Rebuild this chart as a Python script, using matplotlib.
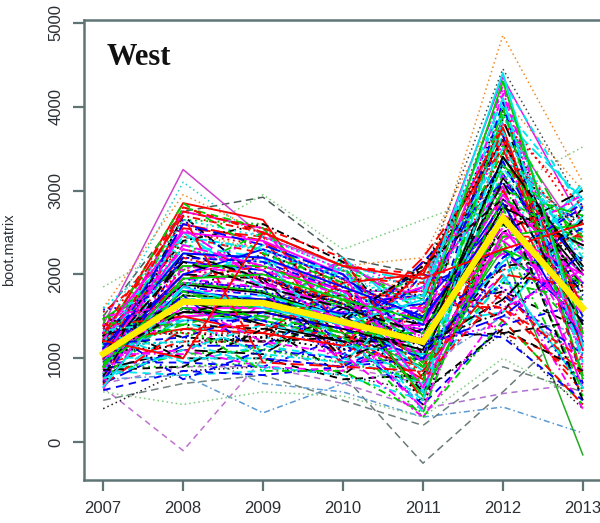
import matplotlib
matplotlib.use("Agg")
import matplotlib.pyplot as plt
import numpy as np

years = [2007, 2008, 2009, 2010, 2011, 2012, 2013]

# Mean of bootstrap lines (yellow)
mean_line = [1054, 1673, 1660, 1435, 1196, 2673, 1600]

# Bootstrap lines: value of each line in each year (same index = same line)
# first 17 entries are the outlying lines, the rest form the dense core
boot_2007 = [650, 900, 800, 700, 1000, 1300, 1850, 1500, 1400, 1300, 1600, 1200, 1100, 750, 600, 500, 400,
             1050, 1200, 900, 1350, 750, 1100, 980, 1450, 820, 1250, 1000, 680, 1150, 1550, 900,
             1300, 850, 1080, 1400, 720, 1180, 950, 1600, 1020, 870, 1230, 780, 1120, 1500, 640,
             1060, 930, 1280, 1340, 800, 1000, 1420, 880, 1160, 700, 1220, 990, 1380, 760, 1100,
             1040, 1260, 840, 1480, 960, 1140, 620, 1320, 910, 1070, 1200, 860, 1580, 1010, 740,
             1190, 1030, 890, 1360, 970, 1110, 810, 1270, 1440, 940, 1170, 1020, 700, 1290, 1090,
             1010, 1330, 870, 1210, 690, 1470, 950, 1130, 1060, 790, 1390, 1240, 910, 1150, 830,
             1270, 980, 1520, 720, 1090, 1310, 860, 1190, 1420, 1000, 660, 1230, 1080, 1350, 930,
             1120, 760, 1400, 1040, 1290, 900, 1170, 820, 1500, 1060, 1210, 940, 780, 1330, 1020]
boot_2008 = [-100, 1500, 1100, 900, 1800, 2500, 2400, 2750, 3250, 3100, 2950, 2300, 2000, 800, 450, 700, 850,
             1750, 2450, 900, 1850, 1350, 2750, 1600, 2100, 1050, 1900, 1450, 2600, 1200, 2300, 1700,
             2150, 800, 2050, 1400, 2550, 1650, 950, 2400, 1800, 1100, 2850, 1550, 2200, 1250, 2000,
             1880, 1200, 2650, 1450, 2350, 1600, 1000, 2500, 1750, 1150, 2250, 1950, 1300, 2700, 1500,
             1800, 2450, 1650, 1250, 2600, 1900, 850, 2300, 1550, 2000, 1350, 2800, 1700, 1000, 2100,
             1700, 1950, 2400, 750, 1850, 1500, 2700, 1300, 2050, 1600, 2500, 1100, 1750, 2200, 1400,
             2000, 950, 1900, 2400, 1350, 2100, 1750, 2650, 1050, 2250, 1500, 2850, 1950, 1200, 2550,
             1550, 2800, 1300, 2200, 1700, 2500, 900, 2050, 1400, 2600, 1850, 2300, 1150, 2750, 1600,
             2250, 1100, 2050, 1550, 2700, 1950, 1250, 2450, 1650, 2150, 1000, 1800, 2650, 1450, 2350]
boot_2009 = [1000, 1200, 700, 900, 1600, 2300, 2950, 2920, 2450, 2400, 2500, 2100, 2200, 350, 600, 800, 900,
             1700, 2250, 950, 1750, 1300, 2550, 1400, 2000, 1100, 1850, 1500, 2400, 1250, 2100, 1650,
             2050, 850, 1950, 1350, 2450, 1600, 900, 2300, 1800, 1050, 2650, 1450, 2150, 1200, 1900,
             1780, 1200, 2600, 1450, 2200, 1600, 1000, 2350, 1700, 1150, 2200, 1850, 1250, 2500, 1550,
             1700, 2300, 1600, 1200, 2400, 1800, 800, 2150, 1500, 1950, 1300, 2550, 1650, 1000, 2000,
             1400, 2100, 1750, 1100, 2350, 1550, 1900, 1300, 2500, 1450, 1850, 900, 2250, 1950, 1650,
             2300, 1150, 1850, 2600, 1400, 2100, 1000, 2450, 1650, 1950, 1300, 2250, 1800, 900, 1900,
             1550, 2500, 1100, 2150, 1750, 2400, 1350, 1950, 850, 2350, 1600, 2050, 1250, 2550, 1500,
             2200, 1400, 2450, 1700, 950, 2000, 1550, 2300, 1200, 1850, 2500, 1450, 1950, 1050, 2100]
boot_2010 = [900, 800, 600, 700, 1300, 2000, 2300, 2200, 2100, 2000, 2100, 1900, 1800, 700, 550, 500, 800,
             1750, 900, 1700, 1200, 2100, 1400, 800, 1950, 1550, 950, 2200, 1300, 1850, 1050, 1650,
             1450, 1900, 850, 1500, 1150, 2150, 1250, 1700, 950, 1600, 1300, 2050, 1100, 1800, 1450,
             1500, 1950, 1400, 1050, 2050, 1550, 750, 1800, 1300, 1650, 1150, 2150, 1450, 900, 1700,
             1530, 1050, 2150, 1250, 1850, 1400, 900, 2000, 1500, 1000, 1900, 1600, 1100, 2100, 1350,
             1200, 1800, 1500, 1000, 2000, 1350, 1650, 1150, 2100, 1250, 1600, 850, 1900, 1700, 1450,
             1950, 1000, 1600, 2150, 1250, 1750, 900, 2050, 1400, 1650, 1150, 1900, 1550, 800, 1600,
             1350, 2100, 950, 1800, 1500, 2000, 1200, 1650, 850, 2000, 1400, 1750, 1100, 2200, 1300,
             1850, 1250, 2050, 1450, 900, 1700, 1350, 1950, 1050, 1600, 2100, 1250, 1650, 950, 1800]
boot_2011 = [700, -250, 300, 400, 900, 1800, 2650, 2000, 1700, 1600, 2200, 2000, 1800, 900, 300, 200, 600,
             950, 1650, 1300, 600, 1900, 1050, 1500, 800, 2000, 1000, 1400, 400, 1750, 1550, 1200,
             1850, 600, 1300, 2050, 900, 1550, 450, 1950, 1100, 1400, 750, 1700, 1250, 350, 1350,
             1000, 1900, 550, 1600, 1150, 1850, 800, 1450, 300, 1750, 1050, 1550, 650, 2150, 950,
             1650, 850, 1800, 1200, 500, 1500, 1000, 1700, 700, 1350, 2000, 900, 1400, 600, 1600,
             1200, 1700, 800, 2000, 1000, 1400, 600, 1550, 950, 2150, 850, 1300, 450, 1800, 1200,
             1450, 700, 1750, 1050, 2200, 550, 1350, 1850, 400, 1150, 2050, 900, 1500, 500, 1600,
             1100, 2000, 750, 1400, 1750, 650, 1250, 1900, 350, 1150, 1700, 950, 2100, 750, 1300,
             1500, 500, 1200, 2100, 850, 1450, 1000, 1650, 300, 1300, 1950, 700, 1150, 1800, 1250]
boot_2012 = [1800, 600, 420, 580, 2300, 4850, 3000, 3300, 3800, 3600, 4100, 4450, 4350, 1500, 1000, 900, 1300,
             3400, 1600, 3050, 2200, 4000, 2900, 1800, 3650, 2400, 3200, 1550, 2650, 3950, 2050, 3550,
             2300, 4300, 1850, 3300, 2450, 3750, 1400, 3100, 2000, 3850, 2700, 3450, 1650, 4100, 2400,
             3150, 1300, 2750, 3650, 1900, 3050, 2600, 3950, 1450, 3350, 2150, 4250, 2850, 1700, 3900,
             2700, 3250, 3550, 1550, 3000, 2300, 4050, 2050, 3200, 2500, 3750, 1900, 2950, 3400, 2250,
             2800, 3700, 2600, 1750, 3850, 2950, 1350, 3450, 2350, 3100, 2000, 4150, 2650, 1600, 3300,
             2850, 1950, 4200, 2100, 3500, 2450, 1250, 3900, 2750, 1700, 3600, 2900, 1850, 4000, 2550,
             3400, 1450, 3200, 2100, 4100, 2500, 1300, 3800, 2800, 1500, 4400, 2400, 3600, 1800, 3000,
             2650, 3700, 1400, 2900, 2000, 4300, 2200, 3300, 1600, 3100, 2300, 4000, 1900, 3500, 2700]
boot_2013 = [900, 1500, 110, 700, -150, 3100, 3520, 2600, 2400, 2200, 3000, 2800, 2600, 1300, 500, 600, 400,
             2050, 700, 1550, 2850, 1100, 2000, 1350, 2300, 550, 1750, 2700, 850, 1600, 2500, 1800,
             1450, 2750, 950, 1850, 2450, 800, 1650, 2650, 400, 1500, 2350, 1250, 2950, 1000, 1700,
             2000, 900, 2400, 1400, 3100, 650, 1800, 2600, 450, 1500, 2900, 1150, 2150, 600, 2250,
             1600, 2300, 1000, 2800, 1300, 1900, 700, 2100, 1200, 3000, 1100, 1700, 500, 2500, 1550,
             2350, 750, 1950, 1050, 2900, 1900, 850, 2500, 1250, 2150, 650, 1550, 2700, 1000, 2450,
             1200, 3050, 900, 2200, 1300, 2600, 500, 2050, 1100, 2650, 1600, 2400, 700, 2850, 1350,
             2100, 450, 1700, 2550, 950, 2000, 1450, 2800, 600, 2250, 1150, 2950, 1750, 800, 2700,
             1600, 2100, 2400, 500, 1850, 1300, 2800, 1050, 2050, 1400, 2600, 750, 1900, 2200, 1250]

# styling
outlier_colors = ["#c070d0", "#6a7a7a", "#5b9bd5", "#b070d0", "#22aa22", "#f08a24", "#7ccd7c",
                  "#4a5a5a", "#cc44cc", "#22cccc", "#f08a24", "#404848", "#ee11ee", "#5b9bd5",
                  "#7ccd7c", "#708080", "#222222"]
outlier_styles = [(0, (4, 3)), (0, (5, 3)), (0, (1, 2, 4, 2)), (0, (4, 3)), "-", (0, (1, 2)),
                  (0, (1, 2)), (0, (5, 3)), "-", (0, (1, 2)), (0, (1, 2)), (0, (1, 2)), "-",
                  (0, (1, 2, 4, 2)), (0, (1, 2)), (0, (5, 3)), (0, (1, 2))]
core_colors = ["#000000", "#ff0000", "#00cd00", "#0000ff", "#00e5ee", "#ff00ff"]
core_styles = ["-", (0, (4, 3)), (0, (1, 2)), (0, (1, 2, 4, 2)), (0, (7, 3))]

data = np.array([boot_2007, boot_2008, boot_2009, boot_2010, boot_2011, boot_2012, boot_2013])
n_out = len(outlier_colors)

fig = plt.figure(figsize=(6.0, 5.23), dpi=100)
ax = fig.add_axes([84 / 600, 43 / 523, 518 / 600, 460 / 523])

for i in range(data.shape[1]):
    if i < n_out:
        c, ls, lw = outlier_colors[i], outlier_styles[i], 1.1
    else:
        j = i - n_out
        c, ls, lw = core_colors[j % 6], core_styles[j % 5], 1.35
    ax.plot(years, data[:, i], color=c, linestyle=ls, linewidth=lw)

ax.plot(years, mean_line, color="#ffee00", linewidth=4.6, solid_joinstyle="miter", zorder=10)

ax.set_xlim(2006.76, 2013.24)
ax.set_ylim(-450, 5032)
ax.set_xticks(years)
ax.set_yticks([0, 1000, 2000, 3000, 4000, 5000])

spine_c = "#5f7575"
for s in ax.spines.values():
    s.set_color(spine_c)
    s.set_linewidth(1.8)
ax.tick_params(axis="both", color=spine_c, width=1.6, length=8, labelsize=12,
               labelcolor="#2a3035", pad=7, labelfontfamily="Liberation Sans")
for lab in ax.get_yticklabels():
    lab.set_rotation(90)
    lab.set_va("center")

ax.set_ylabel("boot.matrix", fontsize=10.5, color="#2a3035", family="Liberation Sans")
ax.yaxis.set_label_coords(-(84 - 16) / 518, 0.5)

ax.text((107 - 84) / 518, (480 - 65) / 460, "West", transform=ax.transAxes,
        fontsize=22, fontweight="bold", family="Liberation Serif", va="baseline", ha="left",
        color="#111111")

fig.savefig("out.png", dpi=100)
